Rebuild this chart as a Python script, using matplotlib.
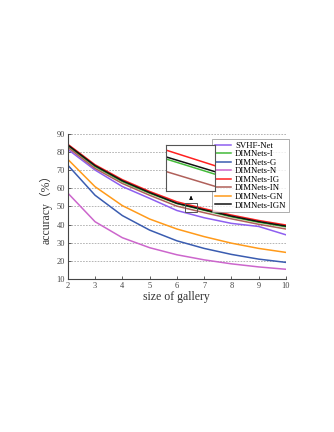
import matplotlib
matplotlib.use("Agg")
import matplotlib.pyplot as plt
from matplotlib.patches import Rectangle

gallery = [2, 3, 4, 5, 6, 7, 8, 9, 10]

names = ["SVHF-Net", "DIMNets-I", "DIMNets-G", "DIMNets-N",
         "DIMNets-IG", "DIMNets-IN", "DIMNets-GN", "DIMNets-IGN"]
svhf = [81.5, 70.1, 61.0, 54.5, 47.8, 43.8, 40.7, 39.0, 34.4]
dim_i = [83.4, 72.0, 63.7, 57.3, 51.6, 47.9, 44.3, 41.3, 38.8]
dim_g = [72.8, 56.2, 45.0, 37.0, 31.1, 26.9, 23.6, 21.0, 19.2]
dim_n = [57.4, 41.6, 32.8, 27.3, 23.4, 20.6, 18.4, 16.7, 15.4]
dim_ig = [84.3, 73.0, 64.8, 58.3, 52.6, 48.8, 45.3, 42.3, 39.8]
dim_in = [82.6, 71.0, 62.7, 56.2, 50.2, 46.6, 43.2, 40.2, 37.6]
dim_gn = [76.0, 60.9, 50.5, 43.1, 37.6, 33.4, 29.8, 26.9, 24.7]
dim_ign = [83.9, 72.5, 64.2, 57.7, 51.8, 48.2, 44.7, 41.7, 39.2]

series = [svhf, dim_i, dim_g, dim_n, dim_ig, dim_in, dim_gn, dim_ign]
colors = ["#8e5ff0", "#44bb3a", "#3a5cb0", "#cc66cc",
          "#ff2020", "#b0605a", "#ff9a1a", "#111111"]

# zoom window shown in the inset
zoom_x = (6.3, 6.75)
zoom_y = (47.0, 52.0)

plt.rcParams["font.family"] = ["Liberation Serif", "Noto Sans CJK SC"]

fig = plt.figure(figsize=(3.34, 4.32), dpi=100)
ax = fig.add_axes([0.203, 0.354, 0.653, 0.336])

for ys, name, c in zip(series, names, colors):
    ax.plot(gallery, ys, color=c, lw=1.1, label=name)

ax.set_xlim(2, 10)
ax.set_ylim(10, 90)
ax.set_xticks(gallery)
ax.set_yticks(range(10, 91, 10))
ax.yaxis.grid(True, linestyle=(0, (2, 1.5)), color="#aaaaaa", lw=0.6)
ax.set_axisbelow(True)
for s in ["top", "right"]:
    ax.spines[s].set_visible(False)
for s in ["left", "bottom"]:
    ax.spines[s].set_color("#444444")
    ax.spines[s].set_linewidth(0.8)
ax.tick_params(direction="in", length=2, width=0.6, labelsize=6,
               colors="#444444", pad=2)
ax.set_xlabel("size of gallery", fontsize=8.5, color="#333333", labelpad=1)
ax.set_ylabel("accuracy（%）", fontsize=8.5, color="#333333", labelpad=3)

leg = ax.legend(loc="upper right", bbox_to_anchor=(1.014, 0.966), fontsize=6.3,
                frameon=True, fancybox=False, edgecolor="#888888",
                handlelength=1.8, handletextpad=0.5, labelspacing=0.05,
                borderpad=0.3, borderaxespad=0)
leg.get_frame().set_linewidth(0.6)

ax.add_patch(Rectangle((zoom_x[0], zoom_y[0]), zoom_x[1] - zoom_x[0],
                       zoom_y[1] - zoom_y[0], fill=False,
                       edgecolor="#555555", lw=0.7, zorder=5))
ax.annotate("", xy=(6.52, 57.4), xytext=(6.52, 53.4),
            arrowprops=dict(arrowstyle="-|>", color="black", lw=0.6,
                            mutation_scale=5))

ins = fig.add_axes([0.497, 0.558, 0.147, 0.106])
for ys, c in zip(series, colors):
    ins.plot(gallery, ys, color=c, lw=1.1)
ins.set_xlim(*zoom_x)
ins.set_ylim(*zoom_y)
ins.set_xticks([])
ins.set_yticks([])
for s in ins.spines.values():
    s.set_color("#555555")
    s.set_linewidth(0.8)

fig.savefig("out.png", dpi=100)
